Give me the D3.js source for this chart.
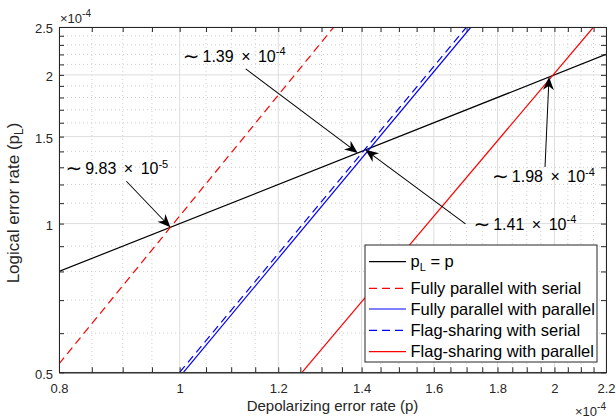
<!DOCTYPE html>
<html>
<head>
<meta charset="utf-8">
<script src="https://cdn.jsdelivr.net/npm/d3@7"></script>
<style>
body { margin: 0; background: #fff; }
text { font-family: "Liberation Sans", Arial, Helvetica, sans-serif; }
</style>
</head>
<body>
<svg id="chart" width="616" height="418"></svg>
<script>
// values are in units of 1e-4
const xTicks = [0.8, 1, 1.2, 1.4, 1.6, 1.8, 2, 2.2];
const yTicks = [0.5, 1, 1.5, 2, 2.5];
const xMinor = [0.85, 0.9, 0.95, 1.05, 1.1, 1.15, 1.25, 1.3, 1.35, 1.45, 1.5, 1.55, 1.65, 1.7, 1.75, 1.85, 1.9, 1.95, 2.05, 2.1, 2.15];
const yMinor = [0.6, 0.7, 0.8, 0.9, 1.1, 1.2, 1.3, 1.4, 1.6, 1.7, 1.8, 1.9, 2.1, 2.2, 2.3, 2.4];

const seriesNames = ["p_L = p", "Fully parallel with serial", "Fully parallel with parallel", "Flag-sharing with serial", "Flag-sharing with parallel"];
// end points of each straight (log-log) line
const identityP = [0.8, 2.2];
const identityPL = [0.8, 2.2];
const fullySerialP = [0.8, 1.33];
const fullySerialPL = [0.52, 2.5];
const fullyParallelP = [1.007, 1.714];
const fullyParallelPL = [0.5, 2.5];
const flagSerialP = [1.0, 1.70];
const flagSerialPL = [0.5, 2.5];
const flagParallelP = [1.254, 2.15];
const flagParallelPL = [0.5, 2.5];

// threshold crossings that are annotated
const thresholdValues = [0.983, 1.39, 1.41, 1.98];
const thresholdLabels = ["9.83", "1.39", "1.41", "1.98"];
const thresholdExps = ["-5", "-4", "-4", "-4"];

const svg = d3.select("#chart");
const mLeft = 59, mRight = 606, mTop = 27, mBottom = 372.3;
const x = d3.scaleLog().domain([0.8, 2.2]).range([mLeft, mRight]);
const y = d3.scaleLog().domain([0.5, 2.5]).range([mBottom, mTop]);
const axisColor = "#262626";

// grid
const grid = svg.append("g");
grid.selectAll(".xminor").data(xMinor).enter().append("line")
	.attr("x1", d => x(d)).attr("x2", d => x(d)).attr("y1", mTop).attr("y2", mBottom)
	.attr("stroke", "#c4c4c4").attr("stroke-width", 0.8).attr("stroke-dasharray", "1,3");
grid.selectAll(".yminor").data(yMinor).enter().append("line")
	.attr("y1", d => y(d)).attr("y2", d => y(d)).attr("x1", mLeft).attr("x2", mRight)
	.attr("stroke", "#c4c4c4").attr("stroke-width", 0.8).attr("stroke-dasharray", "1,3");
grid.selectAll(".xmajor").data(xTicks).enter().append("line")
	.attr("x1", d => x(d)).attr("x2", d => x(d)).attr("y1", mTop).attr("y2", mBottom)
	.attr("stroke", "#dedede").attr("stroke-width", 1);
grid.selectAll(".ymajor").data(yTicks).enter().append("line")
	.attr("y1", d => y(d)).attr("y2", d => y(d)).attr("x1", mLeft).attr("x2", mRight)
	.attr("stroke", "#dedede").attr("stroke-width", 1);

// data lines
const series = [
	{p: identityP, pl: identityPL, color: "#000000", dash: null},
	{p: fullySerialP, pl: fullySerialPL, color: "#ff0000", dash: "8,5"},
	{p: fullyParallelP, pl: fullyParallelPL, color: "#0000ff", dash: null},
	{p: flagSerialP, pl: flagSerialPL, color: "#0000ff", dash: "8,5"},
	{p: flagParallelP, pl: flagParallelPL, color: "#ff0000", dash: null}
];
svg.append("clipPath").attr("id", "clip").append("rect")
	.attr("x", mLeft).attr("y", mTop).attr("width", mRight - mLeft).attr("height", mBottom - mTop);
const line = d3.line().x(d => x(d[0])).y(d => y(d[1]));
svg.append("g").attr("clip-path", "url(#clip)")
	.selectAll("path").data(series).enter().append("path")
	.attr("d", s => line(d3.zip(s.p, s.pl)))
	.attr("fill", "none")
	.attr("stroke", s => s.color)
	.attr("stroke-width", 1.2)
	.attr("stroke-dasharray", s => s.dash);

// axes (ticks inward on all four sides)
function styleAxis(g) {
	g.select(".domain").attr("stroke", axisColor).attr("stroke-width", 1);
	g.selectAll(".tick line").attr("stroke", axisColor);
	g.selectAll("text").attr("fill", axisColor).style("font-family", "'Liberation Sans', Arial, sans-serif").style("font-size", "13px");
}
const fmt = d => String(d);
svg.append("g").attr("transform", `translate(0,${mBottom})`)
	.call(d3.axisBottom(x).tickValues(xTicks).tickFormat(fmt).tickSizeInner(-5).tickSizeOuter(0).tickPadding(11))
	.call(styleAxis);
svg.append("g").attr("transform", `translate(0,${mBottom})`)
	.call(d3.axisBottom(x).tickValues(xMinor).tickFormat("").tickSizeInner(-5).tickSizeOuter(0))
	.call(styleAxis);
svg.append("g").attr("transform", `translate(0,${mTop})`)
	.call(d3.axisTop(x).tickValues(xTicks.concat(xMinor)).tickFormat("").tickSizeInner(-5).tickSizeOuter(0))
	.call(styleAxis);
svg.append("g").attr("transform", `translate(${mLeft},0)`)
	.call(d3.axisLeft(y).tickValues(yTicks).tickFormat(fmt).tickSizeInner(-5).tickSizeOuter(0).tickPadding(6))
	.call(styleAxis)
	.call(g => g.selectAll(".tick text").attr("dy", "0.45em"));
svg.append("g").attr("transform", `translate(${mLeft},0)`)
	.call(d3.axisLeft(y).tickValues(yMinor).tickFormat("").tickSizeInner(-5).tickSizeOuter(0))
	.call(styleAxis);
svg.append("g").attr("transform", `translate(${mRight},0)`)
	.call(d3.axisRight(y).tickValues(yTicks.concat(yMinor)).tickFormat("").tickSizeInner(-5).tickSizeOuter(0))
	.call(styleAxis);

// axis labels
svg.append("text").attr("x", (mLeft + mRight) / 2).attr("y", 411)
	.attr("text-anchor", "middle").attr("fill", axisColor).style("font-size", "15px")
	.text("Depolarizing error rate (p)");
const yl = svg.append("text").attr("transform", `translate(19,203) rotate(-90)`)
	.attr("text-anchor", "middle").attr("fill", axisColor).style("font-size", "17px");
yl.append("tspan").text("Logical error rate (p");
yl.append("tspan").attr("dy", 4).style("font-size", "12px").text("L");
yl.append("tspan").attr("dy", -4).text(")");

function expLabel(xp, yp, anchor) {
	const t = svg.append("text").attr("x", xp).attr("y", yp).attr("text-anchor", anchor)
		.attr("fill", axisColor).style("font-size", "13px");
	t.append("tspan").text("\u00d710");
	t.append("tspan").attr("dy", -6).style("font-size", "10px").text("-4");
}
expLabel(mLeft + 1, 23, "start");
expLabel(mRight, 416, "end");

// annotations: text and arrow tail are placed relative to the arrow tip
const annotLayout = [
	{tx: -105, ty: -53, ax: -44, ay: -46},
	{tx: -175, ty: -91, ax: -112, ay: -84},
	{tx: 108, ty: 80, ax: 100, ay: 74},
	{tx: -57, ty: 105, ax: -4, ay: 90}
];
thresholdValues.forEach((v, i) => {
	const px = x(v), py = y(v), L = annotLayout[i];
	const x0 = px + L.ax, y0 = py + L.ay;
	const ang = Math.atan2(py - y0, px - x0) * 180 / Math.PI;
	const len = Math.hypot(px - x0, py - y0);
	const g = svg.append("g").attr("transform", `translate(${x0},${y0}) rotate(${ang})`);
	g.append("line").attr("x1", 0).attr("y1", 0).attr("x2", len - 8).attr("y2", 0)
		.attr("stroke", "#000").attr("stroke-width", 1);
	g.append("path")
		.attr("d", `M${len},0 L${len - 13},-5.5 L${len - 9},0 L${len - 13},5.5 Z`)
		.attr("fill", "#000");
	const t = svg.append("text").attr("x", px + L.tx).attr("y", py + L.ty)
		.attr("fill", "#000").style("font-size", "16px");
	t.append("tspan").attr("dy", 1).style("font-family", "'DejaVu Sans'").style("font-size", "20px").text("\u223c");
	t.append("tspan").attr("dx", 3).attr("dy", -1).text(thresholdLabels[i]);
	t.append("tspan").attr("dx", 7.5).text("\u00d7");
	t.append("tspan").attr("dx", 7.5).text("10");
	t.append("tspan").attr("dy", -6.5).style("font-size", "11px").text(thresholdExps[i]);
});

// legend
const lg = svg.append("g");
lg.append("rect").attr("x", 365).attr("y", 245).attr("width", 232).attr("height", 117)
	.attr("fill", "#fff").attr("stroke", axisColor).attr("stroke-width", 1);
const rowY = [261.7, 288.3, 309, 330.3, 351.7];
series.forEach((s, i) => {
	lg.append("line").attr("x1", 369).attr("x2", 406).attr("y1", rowY[i]).attr("y2", rowY[i])
		.attr("stroke", s.color).attr("stroke-width", 1.2).attr("stroke-dasharray", s.dash);
	const t = lg.append("text").attr("x", 410.5).attr("y", rowY[i] + 5.6)
		.attr("fill", "#000").style("font-size", "16.5px");
	if (i === 0) {
		t.append("tspan").text("p");
		t.append("tspan").attr("dy", 4).style("font-size", "11px").text("L");
		t.append("tspan").attr("dy", -4).text(" = p");
	} else {
		t.text(seriesNames[i]);
	}
});
</script>
</body>
</html>
